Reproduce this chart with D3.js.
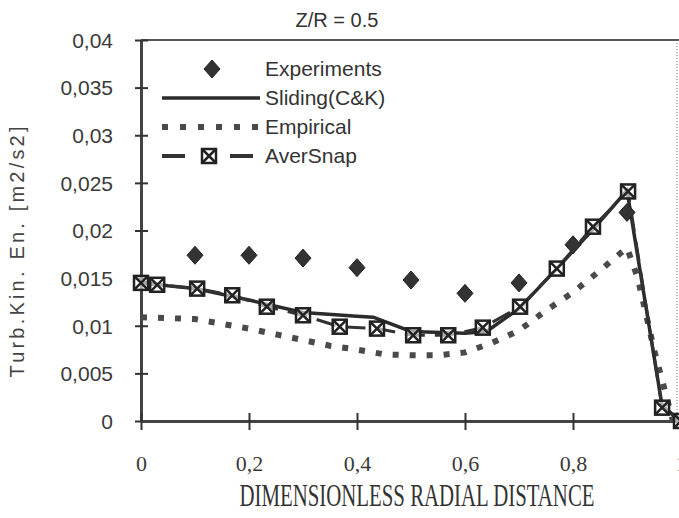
<!DOCTYPE html>
<html>
<head>
<meta charset="utf-8">
<script src="https://cdn.jsdelivr.net/npm/d3@7"></script>
<style>
  body { margin: 0; background: #fff; }
  svg { display: block; }
</style>
</head>
<body>
<svg id="chart" width="679" height="518"></svg>
<script>
// values
const title = "Z/R = 0.5";
const xTicks = [0, 0.2, 0.4, 0.6, 0.8, 1];
const yTicks = [0, 0.005, 0.01, 0.015, 0.02, 0.025, 0.03, 0.035, 0.04];

const expX = [0.1, 0.2, 0.3, 0.4, 0.5, 0.6, 0.7, 0.8, 0.9];
const expY = [0.0174, 0.0174, 0.0171, 0.0161, 0.0148, 0.0134, 0.0145, 0.0185, 0.0219];

const slidX = [0, 0.05, 0.1, 0.2, 0.3, 0.4, 0.43, 0.5, 0.6, 0.64, 0.7, 0.77, 0.84, 0.9, 0.965, 1];
const slidY = [0.0146, 0.0142, 0.0139, 0.0127, 0.0114, 0.0110, 0.0109, 0.0094, 0.0092, 0.0094, 0.0118, 0.0160, 0.0203, 0.0242, 0.0016, 0];

const empX = [0, 0.05, 0.1, 0.15, 0.2, 0.25, 0.3, 0.35, 0.4, 0.45, 0.5, 0.55, 0.6, 0.65, 0.7, 0.75, 0.8, 0.85, 0.9, 0.92, 0.95, 0.985];
const empY = [0.0109, 0.0108, 0.0107, 0.0102, 0.0097, 0.0091, 0.0085, 0.0079, 0.0075, 0.0070, 0.0069, 0.0069, 0.0072, 0.0082, 0.0095, 0.0116, 0.0135, 0.0158, 0.0182, 0.0150, 0.0075, 0];

const averX = [0, 0.03, 0.104, 0.169, 0.233, 0.3, 0.368, 0.437, 0.504, 0.569, 0.633, 0.702, 0.770, 0.837, 0.902, 0.965, 1.0];
const averY = [0.0145, 0.0143, 0.0139, 0.0132, 0.0120, 0.0111, 0.0099, 0.0097, 0.0090, 0.0090, 0.0098, 0.0120, 0.0160, 0.0204, 0.0241, 0.0014, 0];

const legendNames = ["Experiments", "Sliding(C&K)", "Empirical", "AverSnap"];

const svg = d3.select("#chart");
const ink = "#2b2b2b";

let x = d3.scaleLinear().domain([0, 1]).range([141, 681]);
let y = d3.scaleLinear().domain([0, 0.04]).range([421, 40]);
let comma = d => String(d).replace(".", ",");

// frame: top and dotted right border
svg.append("line").attr("x1", 141).attr("x2", 679).attr("y1", y(0.04)).attr("y2", y(0.04))
    .attr("stroke", "#555").attr("stroke-width", 2);
svg.append("line").attr("x1", 677).attr("x2", 677).attr("y1", y(0.04)).attr("y2", y(0))
    .attr("stroke", "#777").attr("stroke-width", 1).attr("stroke-dasharray", "1 2");

// y axis
let yAxis = svg.append("g")
    .attr("transform", "translate(" + x(0) + ",0)")
    .call(d3.axisLeft(y).tickValues(yTicks).tickFormat(comma).tickSizeOuter(0).tickPadding(22));
yAxis.select(".domain").attr("stroke", "#444").attr("stroke-width", 3);
yAxis.selectAll(".tick line").attr("x1", -6).attr("x2", 7).attr("stroke", "#333").attr("stroke-width", 2);
yAxis.selectAll(".tick text")
    .attr("font-family", "Liberation Sans, Arial, sans-serif")
    .attr("font-size", 21).attr("fill", "#3a3a3a").attr("dy", "0.35em");

// x axis
let xAxis = svg.append("g")
    .attr("transform", "translate(0," + y(0) + ")")
    .call(d3.axisBottom(x).tickValues(xTicks).tickFormat(comma).tickSizeOuter(0).tickPadding(28));
xAxis.select(".domain").attr("stroke", "#444").attr("stroke-width", 3);
xAxis.selectAll(".tick line").attr("y1", -8).attr("y2", 9).attr("stroke", "#333").attr("stroke-width", 2);
xAxis.selectAll(".tick text")
    .attr("font-family", "Liberation Serif, Times New Roman, serif")
    .attr("font-size", 22).attr("fill", "#3a3a3a");

// titles
svg.append("text").attr("x", 337).attr("y", 27).attr("text-anchor", "middle")
    .attr("font-family", "Liberation Sans, Arial, sans-serif").attr("font-size", 20)
    .attr("fill", "#333").text(title);

svg.append("text").attr("x", 417).attr("y", 506).attr("text-anchor", "middle")
    .attr("font-family", "Liberation Serif, Times New Roman, serif").attr("font-size", 31)
    .attr("textLength", 355).attr("lengthAdjust", "spacingAndGlyphs")
    .attr("fill", "#333").text("DIMENSIONLESS RADIAL DISTANCE");

svg.append("text").attr("transform", "translate(24,252) rotate(-90)").attr("text-anchor", "middle")
    .attr("font-family", "Liberation Sans, Arial, sans-serif").attr("font-size", 20)
    .attr("textLength", 251).attr("fill", "#444").text("Turb.Kin. En. [m2/s2]");

// series
let line = d3.line().x(d => x(d[0])).y(d => y(d[1]));
let zip = (a, b) => a.map((v, i) => [v, b[i]]);

svg.append("path").attr("d", line(zip(empX, empY)))
    .attr("fill", "none").attr("stroke", "#4a4a4a").attr("stroke-width", 6)
    .attr("stroke-dasharray", "6 11");

svg.append("path").attr("d", line(zip(slidX, slidY)))
    .attr("fill", "none").attr("stroke", ink).attr("stroke-width", 3.5);

svg.append("path").attr("d", line(zip(averX, averY)))
    .attr("fill", "none").attr("stroke", "#333").attr("stroke-width", 3)
    .attr("stroke-dasharray", "20 10");

let diamond = (g, cx, cy) => {
    g.append("path")
        .attr("d", `M${cx},${cy - 9}L${cx + 8},${cy}L${cx},${cy + 9}L${cx - 8},${cy}Z`)
        .attr("fill", "#333").attr("stroke", "#222").attr("stroke-width", 1);
};
let squareMark = (g, cx, cy) => {
    let s = 7;
    g.append("rect").attr("x", cx - s).attr("y", cy - s).attr("width", 2 * s).attr("height", 2 * s)
        .attr("fill", "#fff").attr("fill-opacity", 0.6).attr("stroke", "#222").attr("stroke-width", 2.5);
    g.append("path")
        .attr("d", `M${cx - s},${cy - s}L${cx + s},${cy + s}M${cx + s},${cy - s}L${cx - s},${cy + s}`)
        .attr("stroke", "#222").attr("stroke-width", 2.5);
};

let marks = svg.append("g");
averX.forEach((v, i) => squareMark(marks, x(v), y(averY[i])));
expX.forEach((v, i) => diamond(marks, x(v), y(expY[i])));

// legend
let leg = svg.append("g");
let legY = [69, 98, 127, 156];
diamond(leg, 212, legY[0]);
leg.append("line").attr("x1", 162).attr("x2", 260).attr("y1", legY[1]).attr("y2", legY[1])
    .attr("stroke", ink).attr("stroke-width", 3.5);
leg.append("line").attr("x1", 162).attr("x2", 264).attr("y1", legY[2]).attr("y2", legY[2])
    .attr("stroke", "#4a4a4a").attr("stroke-width", 6).attr("stroke-dasharray", "6 12");
leg.append("line").attr("x1", 162).attr("x2", 185).attr("y1", legY[3]).attr("y2", legY[3])
    .attr("stroke", "#333").attr("stroke-width", 4);
leg.append("line").attr("x1", 230).attr("x2", 253).attr("y1", legY[3]).attr("y2", legY[3])
    .attr("stroke", "#333").attr("stroke-width", 4);
squareMark(leg, 209, legY[3]);
legendNames.forEach((n, i) => {
    leg.append("text").attr("x", 265).attr("y", legY[i]).attr("dy", "0.35em")
        .attr("font-family", "Liberation Sans, Arial, sans-serif").attr("font-size", 21)
        .attr("fill", "#333").text(n);
});
</script>
</body>
</html>
